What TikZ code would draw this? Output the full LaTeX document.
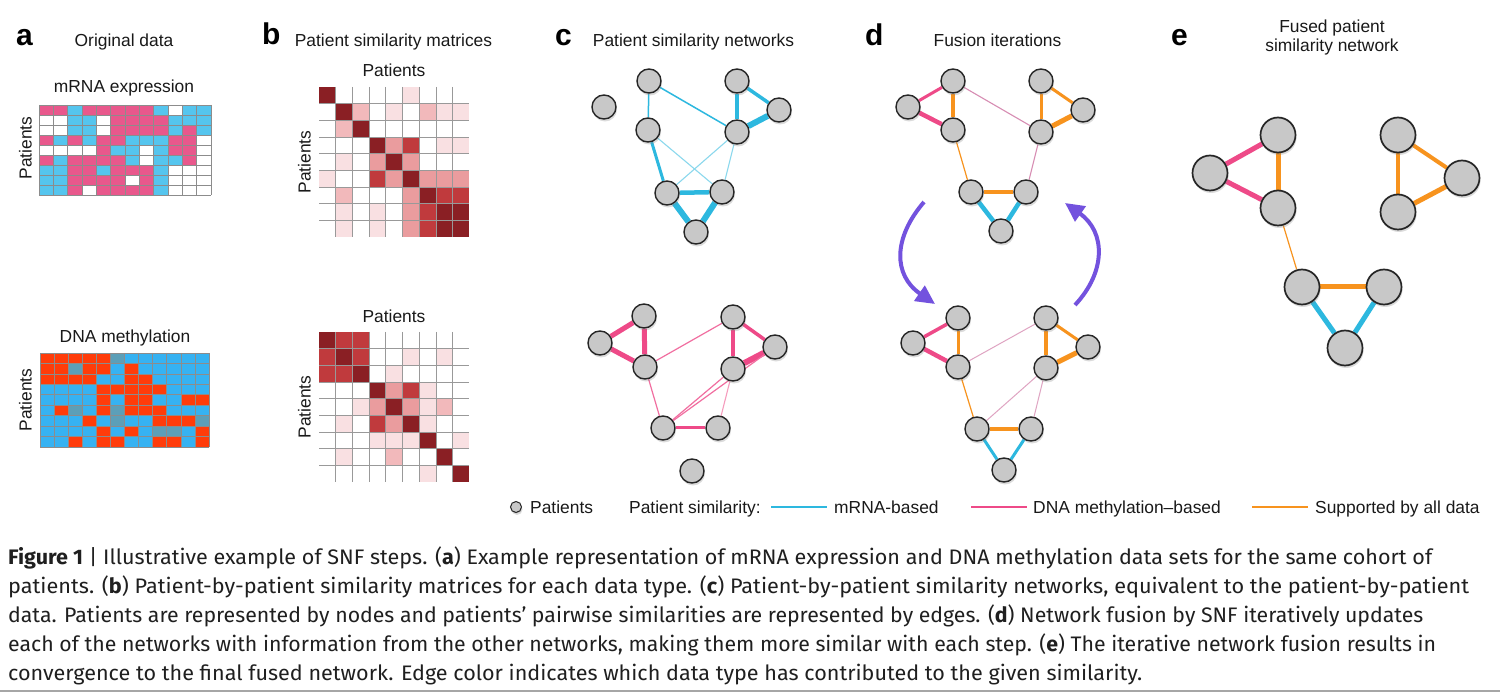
\documentclass[tikz,border=0pt]{standalone}
\usepackage{fontspec}
\usepackage{graphicx}
\setmainfont{Liberation Sans}
\newfontfamily\capfont{Fira Sans}
\usetikzlibrary{shadows,arrows.meta}
\pgfdeclarelayer{bglayer}
\pgfdeclarelayer{edgelayer}
\pgfsetlayers{bglayer,edgelayer,main}
\definecolor{cP}{HTML}{E8588C}
\definecolor{cB}{HTML}{55C5EE}
\definecolor{cW}{HTML}{FFFFFF}
\definecolor{dR}{HTML}{FF3C0A}
\definecolor{dB}{HTML}{36B2F2}
\definecolor{dG}{HTML}{5C9FB8}
\definecolor{m0}{HTML}{FFFFFF}
\definecolor{m1}{HTML}{F9E0E2}
\definecolor{m2}{HTML}{F2B9BB}
\definecolor{m3}{HTML}{EA9C9E}
\definecolor{m4}{HTML}{C03A3D}
\definecolor{m5}{HTML}{8A1F24}
\definecolor{eblue}{HTML}{2DB8DF}
\definecolor{epink}{HTML}{EE4A88}
\definecolor{eorange}{HTML}{F7931E}
\definecolor{elpink}{HTML}{D78DB3}
\definecolor{ngray}{HTML}{C8C8C8}
\definecolor{arrowc}{HTML}{7352DE}
\tikzset{
  lbl/.style={font=\fontsize{17.4}{20}\selectfont, inner sep=0pt, text=black!90},
  plet/.style={font=\fontsize{30}{34}\selectfont\bfseries, inner sep=0pt, anchor=base west},
  pnode/.style={circle, fill=ngray, draw=black!85, line width=1.4pt, minimum size=24pt, inner sep=0pt,
    drop shadow={opacity=0.28, shadow xshift=1pt, shadow yshift=-2.5pt}},
  bnode/.style={pnode, minimum size=35pt, line width=1.7pt},
  agrid/.style={draw=black!45, line width=0.6pt},
  mgrid/.style={draw=black!40, line width=0.8pt},
  farrow/.style={draw=arrowc, line width=4pt, -{Triangle[length=19pt,width=18pt]}},
  capline/.style={anchor=base west, inner sep=0pt, font=\capfont\fontsize{21}{24}\selectfont, text=black!88},
}
\begin{document}
\begin{tikzpicture}[x=1pt,y=-1pt]
\useasboundingbox (0,0) rectangle (1500,692);
\begin{pgfonlayer}{bglayer}
\fill[white] (0,0) rectangle (1500,692);
\end{pgfonlayer}

% ---------- panel letters and titles
\node[plet] (la) at (16,46) {a};
\node[plet] (lb) at (262,45) {b};
\node[plet] (lc) at (555,46) {c};
\node[plet] (ld) at (865,46) {d};
\node[plet] (le) at (1171,46) {e};
\node[lbl,anchor=base] (ta) at (124,47) {Original data};
\node[lbl,anchor=base] (tb) at (393.5,47) {Patient similarity matrices};
\node[lbl,anchor=base] (tc) at (693.5,47) {Patient similarity networks};
\node[lbl,anchor=base] (td) at (997.5,47) {Fusion iterations};
\node[lbl,anchor=base] (te1) at (1332,33) {Fused patient};
\node[lbl,anchor=base] (te2) at (1332,52) {similarity network};

% ---------- panel a
\node[lbl,anchor=base] (tmrna) at (124,93) {mRNA expression};
\node[lbl,anchor=base] (tdna) at (125,343) {DNA methylation};
\node[lbl,rotate=90] (pa1) at (25.5,148) {Patients};
\node[lbl,rotate=90] (pa2) at (25.5,400) {Patients};

\foreach \rowl [count=\rr from 0] in {
 {P,P,B,P,P,P,P,P,B,W,B,B},
 {W,W,B,B,W,P,P,P,P,B,B,B},
 {W,W,B,B,W,P,P,P,P,B,P,B},
 {P,B,P,B,P,P,B,B,B,P,P,W},
 {W,W,W,W,P,B,B,W,B,P,P,W},
 {P,B,P,P,P,P,B,W,B,B,P,W},
 {B,B,P,P,B,P,P,P,B,W,W,W},
 {B,B,P,P,P,P,W,P,B,W,W,W},
 {B,B,P,W,P,P,P,P,B,W,W,W}}
 {\foreach \cc [count=\kk from 0] in \rowl
   {\fill[c\cc] ({39+\kk*14.333},{105+\rr*10}) rectangle ++(14.333,10);}}
\foreach \i in {0,...,12} \draw[agrid] ({39+\i*14.333},105) -- ++(0,90);
\foreach \j in {0,...,9} \draw[agrid] (39,{105+\j*10}) -- ++(172,0);

\foreach \rowl [count=\rr from 0] in {
 {R,R,R,R,R,G,B,B,B,B,B,B},
 {R,R,G,R,R,B,R,B,B,B,B,B},
 {R,R,R,R,B,B,R,R,B,B,B,B},
 {B,B,B,B,R,R,R,R,R,B,B,B},
 {B,B,B,B,R,B,R,R,B,B,R,R},
 {B,R,G,B,R,G,R,R,R,B,B,B},
 {B,B,B,R,B,G,B,B,R,R,R,G},
 {B,B,B,B,R,B,R,B,G,G,B,R},
 {B,B,R,B,R,R,B,B,R,R,B,R}}
 {\foreach \cc [count=\kk from 0] in \rowl
   {\fill[d\cc] ({40+\kk*14.083},{353+\rr*10.444}) rectangle ++(14.083,10.444);}}
\foreach \i in {0,...,12} \draw[agrid] ({40+\i*14.083},353) -- ++(0,94);
\foreach \j in {0,...,9} \draw[agrid] (40,{353+\j*10.444}) -- ++(169,0);

% ---------- panel b
\node[lbl,anchor=base] (pbt) at (394,77) {Patients};
\node[lbl,anchor=base] (pbb) at (394,323) {Patients};
\node[lbl,rotate=90] (pb1) at (304.5,162) {Patients};
\node[lbl,rotate=90] (pb2) at (304.5,407) {Patients};

\foreach \rowl [count=\rr from 0] in {
 {5,0,0,0,0,1,0,0,0},
 {0,5,2,0,1,0,2,1,1},
 {0,2,5,0,0,0,0,0,0},
 {0,0,0,5,3,4,0,1,1},
 {0,1,0,3,5,3,0,0,0},
 {1,0,0,4,3,5,3,3,3},
 {0,2,0,0,0,3,5,4,4},
 {0,1,0,1,0,3,4,5,5},
 {0,1,0,1,0,3,4,5,5}}
 {\foreach \cc [count=\kk from 0] in \rowl
   {\fill[m\cc] ({319+\kk*16.7},{87+\rr*16.7}) rectangle ++(16.7,16.7);}}
\foreach \i in {1,...,8} {
  \draw[mgrid] ({319+\i*16.7},87) -- ++(0,150.3);
  \draw[mgrid] (319,{87+\i*16.7}) -- ++(150.3,0);}

\foreach \rowl [count=\rr from 0] in {
 {5,4,4,0,0,0,0,0,0},
 {4,5,4,0,0,1,0,1,0},
 {4,4,5,0,1,0,0,0,0},
 {0,0,0,5,3,4,1,0,0},
 {0,0,1,3,5,3,1,2,0},
 {0,1,0,4,3,5,1,0,0},
 {0,0,0,1,1,1,5,0,1},
 {0,1,0,0,2,0,0,5,0},
 {0,0,0,0,0,0,1,0,5}}
 {\foreach \cc [count=\kk from 0] in \rowl
   {\fill[m\cc] ({319+\kk*16.7},{332+\rr*16.7}) rectangle ++(16.7,16.7);}}
\foreach \i in {1,...,8} {
  \draw[mgrid] ({319+\i*16.7},332) -- ++(0,150.3);
  \draw[mgrid] (319,{332+\i*16.7}) -- ++(150.3,0);}

% ---------- panel c top (mRNA network)
\node[pnode] (ct0) at (604,107) {};
\node[pnode] (ct1) at (649,81) {};
\node[pnode] (ct2) at (648,130) {};
\node[pnode] (ct3) at (737,81) {};
\node[pnode] (ct4) at (779,110) {};
\node[pnode] (ct5) at (737,132) {};
\node[pnode] (ct6) at (667,193) {};
\node[pnode] (ct7) at (722,192) {};
\node[pnode] (ct8) at (696,232) {};
% ---------- panel c bottom (methylation network)
\node[pnode] (cb1) at (644,316) {};
\node[pnode] (cb2) at (600,343) {};
\node[pnode] (cb3) at (645,367) {};
\node[pnode] (cb4) at (733,317) {};
\node[pnode] (cb5) at (775,347) {};
\node[pnode] (cb6) at (733,369) {};
\node[pnode] (cb7) at (663,428) {};
\node[pnode] (cb8) at (718,428) {};
\node[pnode] (cb9) at (692,471) {};
% ---------- panel d top
\node[pnode] (dt1) at (953,81) {};
\node[pnode] (dt2) at (908,107) {};
\node[pnode] (dt3) at (953,130) {};
\node[pnode] (dt4) at (1041,81) {};
\node[pnode] (dt5) at (1083,110) {};
\node[pnode] (dt6) at (1041,132) {};
\node[pnode] (dt7) at (971,192) {};
\node[pnode] (dt8) at (1026,192) {};
\node[pnode] (dt9) at (1001,231) {};
% ---------- panel d bottom
\node[pnode] (db1) at (958,318) {};
\node[pnode] (db2) at (913,343) {};
\node[pnode] (db3) at (958,367) {};
\node[pnode] (db4) at (1046,318) {};
\node[pnode] (db5) at (1088,347) {};
\node[pnode] (db6) at (1046,368) {};
\node[pnode] (db7) at (977,429) {};
\node[pnode] (db8) at (1031,429) {};
\node[pnode] (db9) at (1004,470) {};
% ---------- panel e
\node[bnode] (e1) at (1278,135) {};
\node[bnode] (e2) at (1210,173) {};
\node[bnode] (e3) at (1278,208) {};
\node[bnode] (e4) at (1398,135) {};
\node[bnode] (e5) at (1462,178) {};
\node[bnode] (e6) at (1398,212) {};
\node[bnode] (e7) at (1302,287) {};
\node[bnode] (e8) at (1384,287) {};
\node[bnode] (e9) at (1345,348) {};

\begin{pgfonlayer}{edgelayer}
% c top
\draw[eblue,line width=1.5pt] (ct1) -- (ct2);
\draw[eblue,line width=1.5pt] (ct1) -- (ct5);
\draw[eblue,line width=3.5pt] (ct3) -- (ct5);
\draw[eblue,line width=3.5pt] (ct3) -- (ct4);
\draw[eblue,line width=6pt] (ct5) -- (ct4);
\draw[eblue,line width=3pt] (ct2) -- (ct6);
\draw[eblue!55,line width=1.1pt] (ct2) -- (ct7);
\draw[eblue!55,line width=1.1pt] (ct5) -- (ct6);
\draw[eblue!55,line width=1.1pt] (ct5) -- (ct7);
\draw[eblue,line width=4.5pt] (ct6) -- (ct7);
\draw[eblue,line width=6pt] (ct6) -- (ct8);
\draw[eblue,line width=6pt] (ct7) -- (ct8);
% c bottom
\draw[epink,line width=5pt] (cb1) -- (cb2);
\draw[epink,line width=5pt] (cb1) -- (cb3);
\draw[epink,line width=5pt] (cb2) -- (cb3);
\draw[epink!80,line width=1.2pt] (cb3) -- (cb4);
\draw[epink!80,line width=1.2pt] (cb3) -- (cb7);
\draw[epink,line width=3.5pt] (cb4) -- (cb6);
\draw[epink,line width=3.5pt] (cb4) -- (cb5);
\draw[epink,line width=6pt] (cb6) -- (cb5);
\draw[epink!80,line width=1.2pt] (cb7) -- (cb6);
\draw[epink!80,line width=1.2pt] (cb7) -- (cb5);
\draw[epink!55,line width=1.1pt] (cb6) -- (cb8);
\draw[epink,line width=3pt] (cb7) -- (cb8);
% d top
\draw[epink,line width=3pt] (dt1) -- (dt2);
\draw[epink,line width=4.5pt] (dt2) -- (dt3);
\draw[eorange,line width=3.5pt] (dt1) -- (dt3);
\draw[elpink,line width=1.1pt] (dt1) -- (dt6);
\draw[eorange,line width=3pt] (dt4) -- (dt6);
\draw[eorange,line width=3pt] (dt4) -- (dt5);
\draw[eorange,line width=5pt] (dt6) -- (dt5);
\draw[eorange,line width=1.2pt] (dt3) -- (dt7);
\draw[elpink,line width=1.1pt] (dt6) -- (dt8);
\draw[eorange,line width=3.5pt] (dt7) -- (dt8);
\draw[eblue,line width=4.5pt] (dt7) -- (dt9);
\draw[eblue,line width=4.5pt] (dt8) -- (dt9);
% d bottom
\draw[epink,line width=3.5pt] (db1) -- (db2);
\draw[epink,line width=4.5pt] (db2) -- (db3);
\draw[eorange,line width=3pt] (db1) -- (db3);
\draw[elpink!80,line width=1pt] (db3) -- (db4);
\draw[eorange,line width=3.5pt] (db4) -- (db6);
\draw[eorange,line width=3pt] (db4) -- (db5);
\draw[eorange,line width=5pt] (db6) -- (db5);
\draw[eorange,line width=1.2pt] (db3) -- (db7);
\draw[elpink!80,line width=1pt] (db6) -- (db7);
\draw[elpink!80,line width=1pt] (db6) -- (db8);
\draw[eorange,line width=3.5pt] (db7) -- (db8);
\draw[eblue,line width=3pt] (db7) -- (db9);
\draw[eblue,line width=3pt] (db8) -- (db9);
% e
\draw[epink,line width=5pt] (e1) -- (e2);
\draw[epink,line width=5pt] (e2) -- (e3);
\draw[eorange,line width=5pt] (e1) -- (e3);
\draw[eorange,line width=4pt] (e4) -- (e5);
\draw[eorange,line width=3.5pt] (e4) -- (e6);
\draw[eorange,line width=5pt] (e6) -- (e5);
\draw[eorange,line width=1.2pt] (e3) -- (e7);
\draw[eorange,line width=5pt] (e7) -- (e8);
\draw[eblue,line width=5pt] (e7) -- (e9);
\draw[eblue,line width=5pt] (e8) -- (e9);
\end{pgfonlayer}

% ---------- fusion arrows
\coordinate (al1) at (924,202);
\coordinate (al2) at (935,304);
\coordinate (ar1) at (1075,305);
\coordinate (ar2) at (1065,203);
\draw[farrow] (al1) .. controls (893,238) and (893,275) .. (al2);
\draw[farrow] (ar1) .. controls (1106,272) and (1106,232) .. (ar2);

% ---------- legend
\node[pnode, minimum size=11pt, line width=1pt, drop shadow={opacity=0.2, shadow xshift=0.5pt, shadow yshift=-1pt}] (lg) at (516,507) {};
\node[lbl,anchor=base west] (lgp) at (530,513) {Patients};
\node[lbl,anchor=base west] (lgs) at (629,513) {Patient similarity:};
\coordinate (lb1) at (771,507); \coordinate (lb2) at (827,507);
\coordinate (lp1) at (971,507); \coordinate (lp2) at (1027,507);
\coordinate (lo1) at (1252,507); \coordinate (lo2) at (1308,507);
\draw[eblue,line width=2.5pt] (lb1) -- (lb2);
\draw[epink,line width=2.5pt] (lp1) -- (lp2);
\draw[eorange,line width=2.5pt] (lo1) -- (lo2);
\node[lbl,anchor=base west] (lgb) at (834,513) {mRNA-based};
\node[lbl,anchor=base west] (lgm) at (1033,513) {DNA methylation--based};
\node[lbl,anchor=base west] (lgo) at (1315,513) {Supported by all data};

% ---------- caption
\node[capline] (cap1) at (8,564) {\resizebox{1424pt}{\height}{\textbf{Figure 1} | Illustrative example of SNF steps. (\textbf{a}) Example representation of mRNA expression and DNA methylation data sets for the same cohort of}};
\node[capline] (cap2) at (8,593) {\resizebox{1461pt}{\height}{patients. (\textbf{b}) Patient-by-patient similarity matrices for each data type. (\textbf{c}) Patient-by-patient similarity networks, equivalent to the patient-by-patient}};
\node[capline] (cap3) at (8,622) {\resizebox{1415pt}{\height}{data. Patients are represented by nodes and patients’ pairwise similarities are represented by edges. (\textbf{d}) Network fusion by SNF iteratively updates}};
\node[capline] (cap4) at (8,651) {\resizebox{1428pt}{\height}{each of the networks with information from the other networks, making them more similar with each step. (\textbf{e}) The iterative network fusion results in}};
\node[capline] (cap5) at (8,680) {\resizebox{1134pt}{\height}{convergence to the final fused network. Edge color indicates which data type has contributed to the given similarity.}};
\fill[black!35] (0,689.5) rectangle (1500,692);
\end{tikzpicture}
\end{document}
